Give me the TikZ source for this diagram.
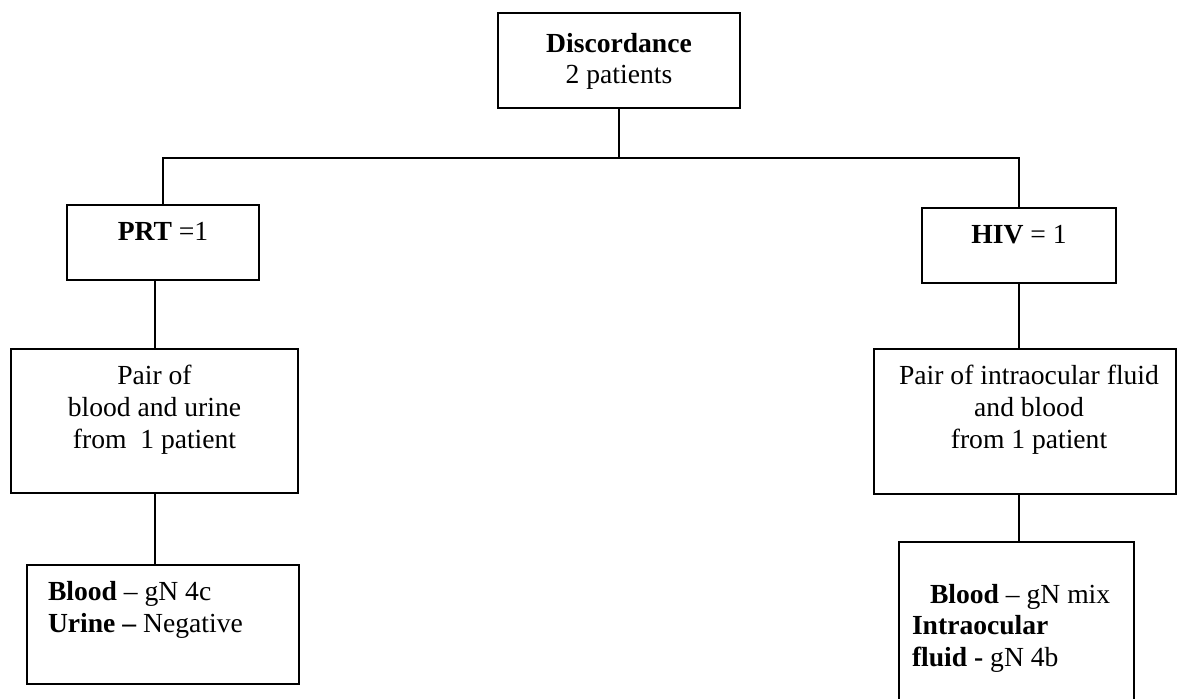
\documentclass[tikz,border=0pt]{standalone}
\usepackage{fontspec}
\setmainfont{Liberation Serif}
\usepackage{tikz}
\usetikzlibrary{positioning}
\usetikzlibrary{calc}

\tikzset{
  box/.style={draw, line width=1pt, inner sep=0pt},
  txt/.style={inner sep=0pt, align=center, font=\fontsize{13.8}{15.8}\selectfont},
}

\begin{document}
\begin{tikzpicture}[x=0.5pt, y=-0.5pt, line width=1pt]
          \useasboundingbox (0,0) rectangle (1178,698);
          \clip (0,0) rectangle (1178,698);

          % boxes
          \node[box, minimum width=121pt, minimum height=47.5pt] (disc) at (619, 60.5) {};
          \node[box, minimum width=96pt, minimum height=37.5pt] (prt) at (163, 242.5) {};
          \node[box, minimum width=97pt, minimum height=37.5pt] (hiv) at (1019, 245.5) {};
          \node[box, minimum width=143.5pt, minimum height=72pt] (pairL) at (154.5, 421) {};
          \node[box, minimum width=151pt, minimum height=72.5pt] (pairR) at (1025, 421.5) {};
          \node[box, minimum width=136pt, minimum height=59.5pt] (bloodL) at (163, 624.5) {};
          \node[box, minimum width=117.5pt, minimum height=89pt] (bloodR) at (1016.5, 631) {};

          % texts
          \node[txt, below=10pt of disc.north] (discT) {\textbf{Discordance}\\2 patients};
          \node[txt, below=8.5pt of prt.north] (prtT) {\textbf{PRT} =1};
          \node[txt, below=8.5pt of hiv.north] (hivT) {\textbf{HIV} = 1};
          \node[txt, below=8.2pt of pairL.north] (pairLT) {Pair of\\blood and urine\\from~~1 patient};
          \node[txt, below=8.2pt of pairR.north, xshift=2pt] (pairRT) {Pair of intraocular fluid\\and blood\\from 1 patient};
          \node[txt, align=left, below right=8.2pt and 10.5pt of bloodL.north west] (bloodLT)
            {\textbf{Blood} -- gN 4c\\\textbf{Urine --} Negative};
          \node[txt, align=left, below right=21pt and 6.5pt of bloodR.north west] (bloodRT)
            {\hspace*{9pt}\textbf{Blood} -- gN mix\\\textbf{Intraocular}\\\textbf{fluid -} gN 4b};

          % connectors
          \coordinate (bus) at (619, 158);
          \draw (disc.south) -- (bus);
          \draw (prt.north) |- (bus) -| (hiv.north);
          \draw (pairL.north |- prt.south) -- (pairL.north);
          \draw (pairL.south) -- (pairL.south |- bloodL.north);
          \draw (hiv.south) -- (hiv.south |- pairR.north);
          \draw (hiv.south |- pairR.south) -- (hiv.south |- bloodR.north);
        \end{tikzpicture}
\end{document}
